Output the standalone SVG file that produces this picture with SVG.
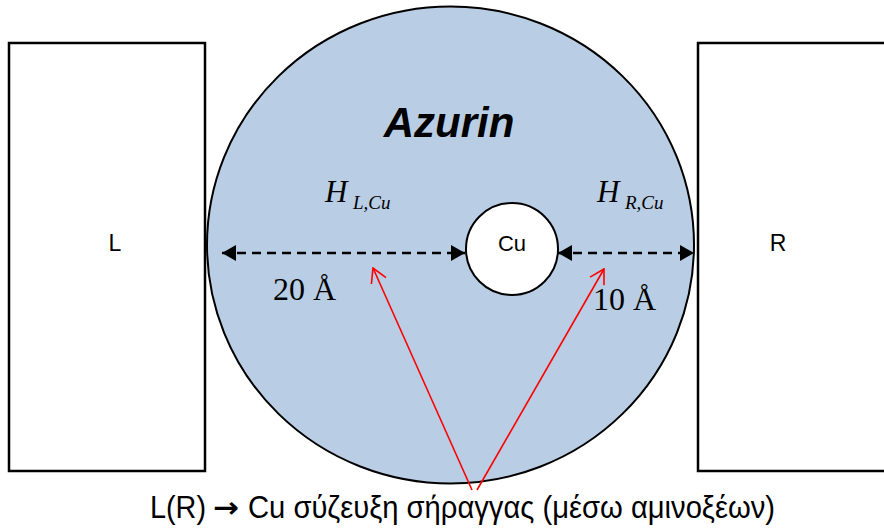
<svg xmlns="http://www.w3.org/2000/svg" width="884" height="529" viewBox="0 0 884 529">
<style>
.box{fill:#fff;stroke:#000;stroke-width:2.5}
.dist{stroke:#000;stroke-width:2.5;stroke-dasharray:9 6;fill:none}
.red{stroke:#ff0000;stroke-width:1.6;fill:none}
.sans{font-family:"Liberation Sans",Arial,sans-serif;fill:#000}
.serif{font-family:"Liberation Serif","Times New Roman",serif;fill:#000}
.cap{font-size:31px}
</style>
<defs>
<marker id="tri" viewBox="0 0 14 16" refX="14" refY="8" markerWidth="14" markerHeight="16" markerUnits="userSpaceOnUse" orient="auto-start-reverse">
<path d="M0,0 L14,8 L0,16 Z" fill="#000"/>
</marker>
<marker id="vee" viewBox="0 0 16 18" refX="15" refY="9" markerWidth="16" markerHeight="18" markerUnits="userSpaceOnUse" orient="auto">
<path d="M1,1 L15,9 L1,17" fill="none" stroke="#ff0000" stroke-width="1.6"/>
</marker>
</defs>
<g id="L">
<rect class="box" x="9" y="43" width="196" height="428"/>
<text class="sans" x="115" y="251" font-size="23" text-anchor="middle">L</text>
</g>
<g id="R">
<rect class="box" x="698" y="43" width="200" height="428"/>
<text class="sans" x="778" y="251" font-size="23" text-anchor="middle">R</text>
</g>
<g id="azurin">
<ellipse cx="450.5" cy="245" rx="243.5" ry="238.5" fill="#b9cde4" stroke="#000" stroke-width="2"/>
<text class="sans" x="449" y="137" font-size="42" font-weight="bold" font-style="italic" text-anchor="middle">Azurin</text>
</g>
<g id="cu">
<circle cx="512" cy="249" r="46" fill="#fff" stroke="#000" stroke-width="2"/>
<text class="sans" x="512" y="251" font-size="22" text-anchor="middle">Cu</text>
</g>
<g id="connectors">
<line class="dist" x1="222" y1="253" x2="465" y2="253" marker-start="url(#tri)" marker-end="url(#tri)"/>
<line class="dist" x1="558" y1="253" x2="694" y2="253" marker-start="url(#tri)" marker-end="url(#tri)"/>
<line class="red" x1="472" y1="490" x2="373" y2="268" marker-end="url(#vee)"/>
<line class="red" x1="477" y1="490" x2="604" y2="269" marker-end="url(#vee)"/>
</g>
<g id="labels">
<text class="serif" font-style="italic" x="325" y="202" font-size="31">H</text>
<text class="serif" font-style="italic" x="353" y="209" font-size="19">L,Cu</text>
<text class="serif" font-style="italic" x="597" y="202" font-size="31">H</text>
<text class="serif" font-style="italic" x="625" y="209" font-size="19">R,Cu</text>
<text class="serif" x="273" y="300" font-size="32">20 Å</text>
<text class="serif" x="593" y="310" font-size="32">10 Å</text>
<text class="sans cap" x="150" y="518" textLength="56" lengthAdjust="spacingAndGlyphs">L(R)</text>
<text x="213" y="517" font-family="'DejaVu Sans',sans-serif" font-weight="bold" font-size="28" textLength="26" lengthAdjust="spacingAndGlyphs">→</text>
<text class="sans cap" x="248" y="518" textLength="527" lengthAdjust="spacingAndGlyphs">Cu σύζευξη σήραγγας (μέσω αμινοξέων)</text>
</g>
</svg>
